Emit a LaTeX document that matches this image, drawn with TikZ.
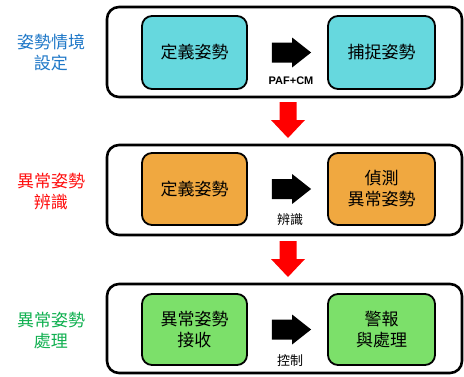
\documentclass[tikz,border=0pt]{standalone}
\usepackage{fontspec}
\newfontfamily\cjk{Noto Sans CJK TC}
\newfontfamily\lab{Liberation Sans}
\usetikzlibrary{calc}
\definecolor{cyanfill}{HTML}{66D8DE}
\definecolor{orangefill}{HTML}{F0A840}
\definecolor{greenfill}{HTML}{7CE06A}
\definecolor{bluetxt}{HTML}{1F78C8}
\definecolor{redtxt}{HTML}{FF1010}
\definecolor{greentxt}{HTML}{10B050}
\begin{document}
\begin{tikzpicture}[x=1pt,y=-1pt,
  outerbox/.style={draw, line width=2.6pt, rounded corners=12pt, fill=white, minimum width=355pt, inner sep=0pt},
  innerbox/.style={draw, line width=1.8pt, rounded corners=10pt, inner sep=0pt, align=center, font=\cjk\fontsize{17}{21}\selectfont},
  sidelabel/.style={align=center, font=\cjk\fontsize{17}{21}\selectfont},
  smalllabel/.style={font=\cjk\fontsize{13}{15}\selectfont},
  blockarrow/.style={fill=black, draw=none},
  redarrow/.style={fill=red, draw=none}]
\useasboundingbox (0,0) rectangle (464,376);
\fill[white] (0,0) rectangle (464,376);

% outer boxes
\node[outerbox, minimum height=90pt] (o1) at (284.5,52) {};
\node[outerbox, minimum height=90pt] (o2) at (284.5,190) {};
\node[outerbox, minimum height=89pt] (o3) at (284.5,328.5) {};

% row 1
\node[innerbox, fill=cyanfill, minimum width=105pt, minimum height=73pt] (a1) at (194.5,52.5) {定義姿勢};
\node[innerbox, fill=cyanfill, minimum width=107pt, minimum height=73pt] (b1) at (381.5,52.5) {捕捉姿勢};
% row 2
\node[innerbox, fill=orangefill, minimum width=105pt, minimum height=72pt] (a2) at (194.5,189) {定義姿勢};
\node[innerbox, fill=orangefill, minimum width=107pt, minimum height=72pt] (b2) at (381.5,189) {偵測\\異常姿勢};
% row 3
\node[innerbox, fill=greenfill, minimum width=105pt, minimum height=71pt] (a3) at (194.5,329.5) {異常姿勢\\接收};
\node[innerbox, fill=greenfill, minimum width=107pt, minimum height=71pt] (b3) at (381.5,329.5) {警報\\與處理};

% side labels
\node[sidelabel, text=bluetxt] (s1) at (51,53) {姿勢情境\\設定};
\node[sidelabel, text=redtxt] (s2) at (51,192) {異常姿勢\\辨識};
\node[sidelabel, text=greentxt] (s3) at (51,331) {異常姿勢\\處理};

% black block arrows
\foreach \a/\b in {a1/b1, a2/b2, a3/b3} {
  \fill[blockarrow]
    ($(\a.east)+(24,-10)$) -- ($(\b.west)+(-35,-10)$) -- ($(\b.west)+(-35,-15)$)
    -- ($(\b.west)+(-16,0)$) -- ($(\b.west)+(-35,15)$) -- ($(\b.west)+(-35,10)$)
    -- ($(\a.east)+(24,10)$) -- cycle;
}
\node[font=\lab\bfseries\fontsize{11}{13}\selectfont] (l1) at (291,81) {PAF+CM};
\node[smalllabel] (l2) at (290,220) {辨識};
\node[smalllabel] (l3) at (290,361) {控制};

% red arrows between stages
\coordinate (r1s) at (288,102);
\coordinate (r1e) at (288,138);
\coordinate (r2s) at (288,241);
\coordinate (r2e) at (288,277);
\foreach \s/\e in {r1s/r1e, r2s/r2e} {
  \fill[redarrow]
    ($(\s)+(-8.5,0)$) -- ($(\s)+(8.5,0)$) -- ($(\e)+(8.5,-18)$) -- ($(\e)+(17,-18)$)
    -- (\e) -- ($(\e)+(-17,-18)$) -- ($(\e)+(-8.5,-18)$) -- cycle;
}
\end{tikzpicture}
\end{document}
